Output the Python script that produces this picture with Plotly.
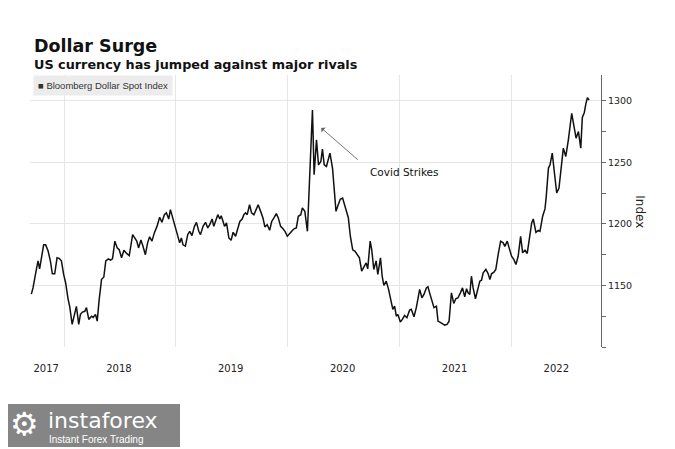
import pandas as pd
import plotly.graph_objects as go

# Positions on the time axis as decimal years
year_pos = [
    2017.707, 2017.722, 2017.752, 2017.767, 2017.781, 2017.796, 2017.817, 2017.835, 2017.857, 2017.877,
    2017.895, 2017.916, 2017.937, 2017.955, 2017.976, 2017.996, 2018.014, 2018.036, 2018.050, 2018.072,
    2018.090, 2018.110, 2018.131, 2018.146, 2018.164, 2018.185, 2018.200, 2018.221, 2018.245, 2018.260,
    2018.281, 2018.296, 2018.314, 2018.335, 2018.355, 2018.373, 2018.395, 2018.415, 2018.433, 2018.454,
    2018.475, 2018.493, 2018.514, 2018.535, 2018.559, 2018.583, 2018.613, 2018.633, 2018.650, 2018.666,
    2018.687, 2018.705, 2018.727, 2018.747, 2018.765, 2018.786, 2018.807, 2018.831, 2018.855, 2018.875,
    2018.897, 2018.915, 2018.936, 2018.951, 2018.974, 2018.996, 2019.016, 2019.034, 2019.049, 2019.064,
    2019.085, 2019.106, 2019.124, 2019.144, 2019.166, 2019.184, 2019.205, 2019.220, 2019.243, 2019.265,
    2019.285, 2019.303, 2019.324, 2019.339, 2019.354, 2019.375, 2019.393, 2019.405, 2019.422, 2019.435,
    2019.453, 2019.474, 2019.494, 2019.512, 2019.534, 2019.554, 2019.572, 2019.593, 2019.608, 2019.623,
    2019.638, 2019.659, 2019.677, 2019.698, 2019.718, 2019.736, 2019.758, 2019.779, 2019.796, 2019.817,
    2019.839, 2019.857, 2019.877, 2019.898, 2019.916, 2019.937, 2019.958, 2019.976, 2019.997, 2020.018,
    2020.036, 2020.057, 2020.077, 2020.095, 2020.117, 2020.131, 2020.153, 2020.176, 2020.221, 2020.236,
    2020.257, 2020.275, 2020.296, 2020.310, 2020.326, 2020.346, 2020.364, 2020.377, 2020.400, 2020.431,
    2020.451, 2020.469, 2020.490, 2020.505, 2020.520, 2020.541, 2020.559, 2020.580, 2020.601, 2020.624,
    2020.640, 2020.660, 2020.678, 2020.700, 2020.714, 2020.736, 2020.750, 2020.768, 2020.789, 2020.804,
    2020.828, 2020.843, 2020.858, 2020.879, 2020.900, 2020.918, 2020.938, 2020.954, 2020.969, 2020.983,
    2021.005, 2021.023, 2021.043, 2021.064, 2021.088, 2021.103, 2021.127, 2021.148, 2021.163, 2021.178,
    2021.198, 2021.216, 2021.238, 2021.252, 2021.267, 2021.288, 2021.306, 2021.328, 2021.342, 2021.366,
    2021.387, 2021.402, 2021.423, 2021.441, 2021.462, 2021.483, 2021.501, 2021.521, 2021.542, 2021.561,
    2021.581, 2021.597, 2021.611, 2021.626, 2021.641, 2021.656, 2021.677, 2021.701, 2021.716, 2021.731,
    2021.746, 2021.770, 2021.790, 2021.806, 2021.821, 2021.842, 2021.859, 2021.880, 2021.902, 2021.925,
    2021.940, 2021.961, 2021.979, 2022.000, 2022.021, 2022.039, 2022.059, 2022.081, 2022.099, 2022.120,
    2022.140, 2022.158, 2022.180, 2022.194, 2022.218, 2022.239, 2022.254, 2022.278, 2022.299, 2022.310,
    2022.330, 2022.344, 2022.364, 2022.382, 2022.404, 2022.424, 2022.449, 2022.463, 2022.485, 2022.508,
    2022.538, 2022.559, 2022.577, 2022.598, 2022.619, 2022.633, 2022.651, 2022.664, 2022.678, 2022.694,
]

index_values = [
    1143, 1148, 1163, 1170, 1163.5, 1171, 1183, 1183, 1178, 1170,
    1159.5, 1159.5, 1172.5, 1172, 1170, 1159, 1152, 1138.7, 1133, 1118.4,
    1125, 1133, 1118.4, 1126.5, 1128.4, 1129, 1132, 1122.4, 1125, 1124,
    1126.5, 1121, 1138.7, 1155, 1156.7, 1170, 1171.6, 1170.5, 1171.6, 1186,
    1180.5, 1179, 1172.5, 1178.6, 1176, 1174.3, 1191.3, 1188, 1186, 1180.5,
    1187, 1182, 1175, 1184.6, 1189.5, 1186, 1192.7, 1198, 1205.4, 1201.3,
    1207.5, 1209, 1204, 1211.6, 1204, 1198, 1191.3, 1184.6, 1188.6, 1183,
    1182, 1191.3, 1194, 1190.5, 1198, 1201.3, 1194, 1191.3, 1198, 1201.3,
    1196.8, 1199.4, 1204, 1198, 1202, 1207.5, 1204, 1206.7, 1202, 1198,
    1200.8, 1188.6, 1186.7, 1193.2, 1190, 1196.8, 1202, 1204, 1207.5, 1209,
    1207.5, 1215.6, 1209, 1207.5, 1211.6, 1215.6, 1210.2, 1204.9, 1197.6, 1199.4,
    1194.8, 1202, 1204.9, 1208.4, 1204.9, 1198, 1196, 1194, 1190, 1192.7,
    1194, 1196, 1196.8, 1206.2, 1207.5, 1213, 1210.2, 1194, 1292.6, 1240,
    1268.3, 1248, 1250.7, 1260.8, 1248, 1246.7, 1252.7, 1257.5, 1245.4, 1210.2,
    1215.6, 1220, 1221, 1215.6, 1210.2, 1205, 1190, 1179, 1177.8, 1175,
    1172.5, 1161.6, 1164.3, 1168.4, 1163.5, 1186, 1179, 1163, 1170, 1159,
    1172.5, 1157.5, 1150, 1153.5, 1146.8, 1138.7, 1130.6, 1133.2, 1125, 1126.5,
    1120.3, 1122.4, 1125.7, 1123.8, 1130, 1130.6, 1124.6, 1132, 1140, 1146.8,
    1140, 1142.7, 1148, 1149, 1144, 1137.3, 1132, 1133.2, 1121, 1119.8,
    1118.4, 1117.8, 1118.4, 1121, 1144, 1135.4, 1139.2, 1140, 1144, 1148,
    1140.8, 1147.3, 1144, 1142.7, 1157.5, 1148, 1139.2, 1149.4, 1153.5, 1154.3,
    1160.3, 1163, 1159.7, 1154.9, 1159.5, 1160.8, 1163, 1175.1, 1186, 1184.6,
    1181.8, 1186, 1180.5, 1173.7, 1171, 1167, 1173.7, 1190, 1176.5, 1178.6,
    1176, 1186, 1200.8, 1204, 1193.2, 1194.8, 1194, 1206.2, 1212.2, 1222,
    1245.4, 1248, 1257.5, 1242.6, 1225.1, 1229.2, 1253.5, 1261.6, 1254.8, 1268.3,
    1289.9, 1279, 1269.7, 1275, 1261.6, 1286.5, 1290.6, 1297.3, 1302.6, 1300.7,
]

year_labels = ["2017", "2018", "2019", "2020", "2021", "2022"]
label_pos = [2017.84, 2018.49, 2019.49, 2020.49, 2021.49, 2022.40]
y_tick_vals = [1150, 1200, 1250, 1300]


def to_date(f):
    y = int(f)
    start = pd.Timestamp(year=y, month=1, day=1)
    days = (pd.Timestamp(year=y + 1, month=1, day=1) - start).days
    return start + pd.Timedelta(days=(f - y) * days)


dates = [to_date(f) for f in year_pos]
label_dates = [to_date(f) for f in label_pos]

fig = go.Figure()
fig.add_trace(go.Scatter(
    x=dates, y=index_values, mode="lines",
    line=dict(color="#111111", width=1.5),
    name="Bloomberg Dollar Spot Index", showlegend=False,
))

fig.update_layout(
    width=667, height=441,
    margin=dict(l=22, r=74, t=67, b=102, autoexpand=False),
    paper_bgcolor="white", plot_bgcolor="white",
    font=dict(family="DejaVu Sans", color="#222222"),
    xaxis=dict(
        type="date",
        range=[to_date(2017.695), to_date(2022.80)],
        tickmode="array", tickvals=label_dates, ticktext=year_labels,
        showgrid=False, showline=False, zeroline=False, ticks="",
        tickfont=dict(size=10, color="#222222"),
        ticklabelstandoff=14,
        minor=dict(tick0="2018-01-01", dtick="M12", showgrid=True,
                   gridcolor="#e6e6e6", gridwidth=1, ticks=""),
    ),
    yaxis=dict(
        side="right", range=[1100, 1321],
        tickmode="array", tickvals=y_tick_vals,
        showgrid=True, gridcolor="#e6e6e6", gridwidth=1, zeroline=False,
        showline=True, linecolor="#666666", linewidth=1,
        ticks="outside", ticklen=4, tickcolor="#666666",
        tickfont=dict(size=9.5, color="#222222"),
        minor=dict(tick0=1100, dtick=25, ticks="outside", ticklen=4,
                   tickcolor="#666666", showgrid=False),
    ),
)

annotations = [
    dict(text="<b>Dollar Surge</b>", xref="paper", yref="paper", x=0.003, y=1.105,
         xanchor="left", yanchor="middle", showarrow=False,
         font=dict(family="DejaVu Sans", size=17.5, color="#111111")),
    dict(text="<b>US currency has jumped against major rivals</b>", xref="paper", yref="paper",
         x=0.003, y=1.0386, xanchor="left", yanchor="middle", showarrow=False,
         font=dict(family="DejaVu Sans", size=12.8, color="#111111")),
    dict(text="■ Bloomberg Dollar Spot Index", xref="paper", yref="paper", x=0.005, y=1.0,
         xanchor="left", yanchor="top", showarrow=False, bgcolor="#ececec", borderpad=4,
         font=dict(family="Liberation Sans", size=9.5, color="#333333")),
    dict(text="Index", xref="paper", yref="paper", x=1.068, y=0.496, textangle=90,
         xanchor="center", yanchor="middle", showarrow=False,
         font=dict(family="DejaVu Sans", size=12, color="#222222")),
    dict(text="Covid Strikes", xref="x", yref="y", x=to_date(2021.043), y=1242.4,
         showarrow=False, xanchor="center", yanchor="middle",
         font=dict(family="DejaVu Sans", size=10.5, color="#111111")),
    dict(text="", xref="x", yref="y", x=to_date(2020.299), y=1278,
         ax=38, ay=33, showarrow=True, arrowhead=1, arrowsize=1.2, arrowwidth=0.9,
         arrowcolor="#666666"),
    # watermark
    dict(text="⚙", xref="paper", yref="paper", x=-0.01, y=-0.283, showarrow=False,
         xanchor="center", yanchor="middle", font=dict(family="DejaVu Sans", size=32, color="white")),
    dict(text="instaforex", xref="paper", yref="paper", x=0.028, y=-0.272, showarrow=False,
         xanchor="left", yanchor="middle", font=dict(family="DejaVu Sans", size=22, color="white")),
    dict(text="Instant Forex Trading", xref="paper", yref="paper", x=0.03, y=-0.34, showarrow=False,
         xanchor="left", yanchor="middle", font=dict(family="Liberation Sans", size=10, color="white")),
]
fig.update_layout(annotations=annotations)

fig.add_shape(type="rect", xref="paper", yref="paper", x0=-0.04, x1=0.2627, y0=-0.3676, y1=-0.2096,
              fillcolor="#858585", line=dict(width=0), layer="below")

fig.write_html("out.html")
